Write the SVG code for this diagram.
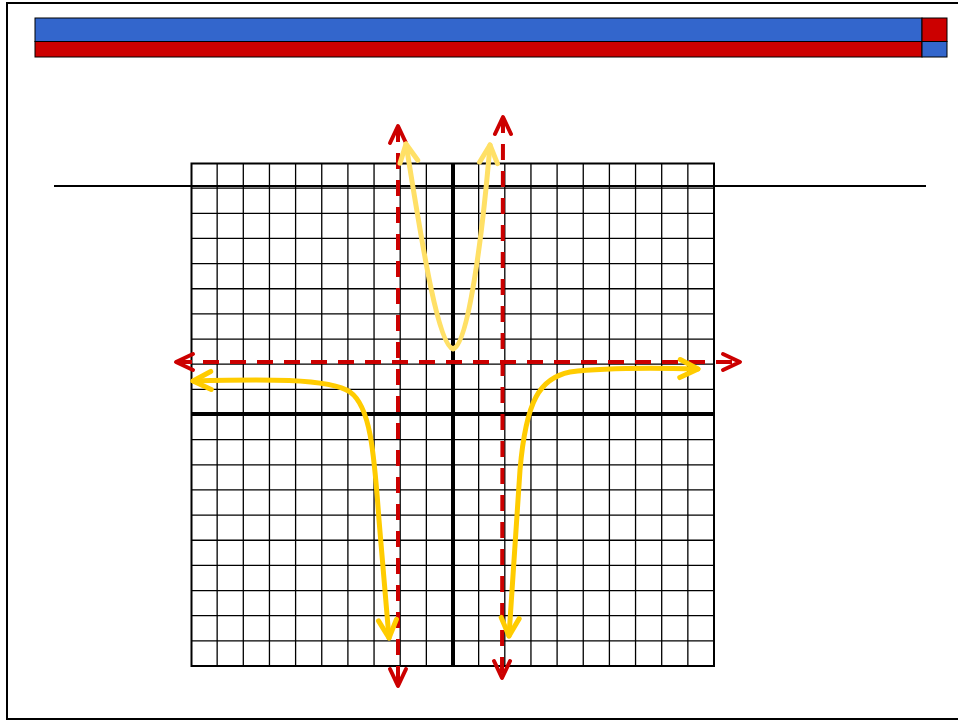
<svg xmlns="http://www.w3.org/2000/svg" width="958" height="721" viewBox="0 0 958 721">
  <style>
    .bar { stroke: #000; stroke-width: 1; }
    .grid { fill: none; stroke: #000; stroke-width: 1.3; }
    .border { fill: none; stroke: #000; stroke-width: 2; }
    .axis { fill: none; stroke: #000; stroke-width: 4; }
    .asym { fill: none; stroke: #CC0000; stroke-width: 4; stroke-dasharray: 16 11; }
    .curve { fill: none; stroke: #FFCC00; stroke-width: 5; stroke-linecap: round; stroke-linejoin: round; }
    .curve-light { fill: none; stroke: #FFE066; stroke-width: 5; stroke-linecap: round; stroke-linejoin: round; }
  </style>
  <defs>
    <marker id="redArrow" markerUnits="userSpaceOnUse" orient="auto-start-reverse" viewBox="-25 -15 30 30" markerWidth="30" markerHeight="30" refX="0" refY="0" overflow="visible">
      <path d="M-17,-8 L0,0 L-17,8" fill="none" stroke="#CC0000" stroke-width="4" stroke-dasharray="none" stroke-linejoin="round" stroke-linecap="round"/>
    </marker>
    <marker id="goldArrow" markerUnits="userSpaceOnUse" orient="auto-start-reverse" viewBox="-25 -15 30 30" markerWidth="30" markerHeight="30" refX="0" refY="0" overflow="visible">
      <path d="M-18,-9 L0,0 L-18,9" fill="none" stroke="#FFCC00" stroke-width="5" stroke-linejoin="round" stroke-linecap="round"/>
    </marker>
    <marker id="lightArrow" markerUnits="userSpaceOnUse" orient="auto-start-reverse" viewBox="-25 -15 30 30" markerWidth="30" markerHeight="30" refX="0" refY="0" overflow="visible">
      <path d="M-18,-9 L0,0 L-18,9" fill="none" stroke="#FFE066" stroke-width="5" stroke-linejoin="round" stroke-linecap="round"/>
    </marker>
  </defs>

  <rect width="958" height="721" fill="#FFFFFF"/>

  <g id="frame">
    <rect x="7" y="3" width="960" height="716" fill="none" stroke="#000" stroke-width="2"/>
  </g>

  <g id="header">
    <rect class="bar" x="35" y="18" width="887" height="23.5" fill="#3366CC"/>
    <rect class="bar" x="35" y="41.5" width="887" height="15.5" fill="#CC0000"/>
    <rect class="bar" x="922" y="18" width="25" height="23.5" fill="#CC0000"/>
    <rect class="bar" x="922" y="41.5" width="25" height="15.5" fill="#3366CC"/>
  </g>

  <g id="grid">
    <path class="grid" d="M217.15,163V666 M243.3,163V666 M269.45,163V666 M295.6,163V666 M321.75,163V666 M347.9,163V666 M374.05,163V666 M400.2,163V666 M426.35,163V666 M478.65,163V666 M504.8,163V666 M530.95,163V666 M557.1,163V666 M583.25,163V666 M609.4,163V666 M635.55,163V666 M661.7,163V666 M687.85,163V666"/>
    <path class="grid" d="M191,188.15H714 M191,213.3H714 M191,238.45H714 M191,263.6H714 M191,288.75H714 M191,313.9H714 M191,339.05H714 M191,364.2H714 M191,389.35H714 M191,439.65H714 M191,464.8H714 M191,489.95H714 M191,515.1H714 M191,540.25H714 M191,565.4H714 M191,590.55H714 M191,615.7H714 M191,640.85H714"/>
    <rect class="border" x="191.5" y="163.5" width="522.5" height="502.5"/>
    <path class="axis" d="M453,163V666 M191,414H714"/>
  </g>

  <g id="rule">
    <path d="M54,186H926" stroke="#000" stroke-width="2" fill="none"/>
  </g>

  <g id="asymptotes">
    <path class="asym" d="M398,126V686" marker-start="url(#redArrow)" marker-end="url(#redArrow)"/>
    <path class="asym" d="M503,117L502,678" marker-start="url(#redArrow)" marker-end="url(#redArrow)"/>
    <path class="asym" d="M176,362H740" marker-start="url(#redArrow)" marker-end="url(#redArrow)"/>
  </g>

  <g id="curves">
    <path class="curve" d="M193,381 C260,379 330,378 350,392 C370,406 374,450 379,520 L389,638" marker-start="url(#goldArrow)" marker-end="url(#goldArrow)"/>
    <path class="curve" d="M509,636 L520,470 C526,400 540,378 570,372 C610,367 660,368 698,369" marker-start="url(#goldArrow)" marker-end="url(#goldArrow)"/>
    <path class="curve-light" d="M406,144 C420,230 437,345 453,349 C468,345 482,240 490,145" marker-start="url(#lightArrow)" marker-end="url(#lightArrow)"/>
  </g>
</svg>
